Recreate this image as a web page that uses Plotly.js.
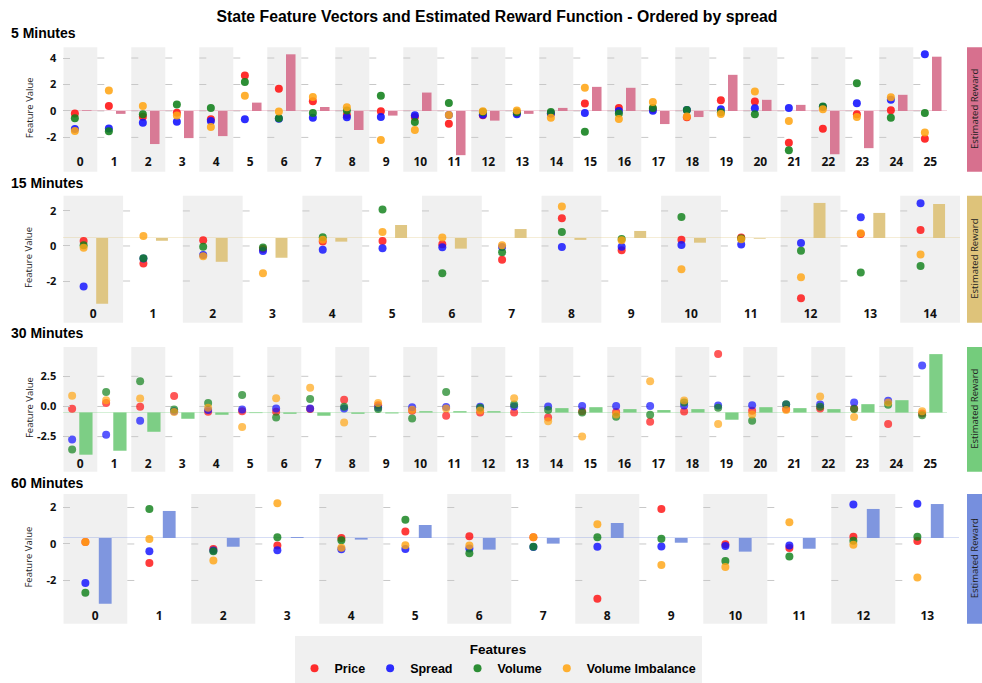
<!DOCTYPE html>
<html>
<head>
<meta charset="utf-8">
<script src="https://cdn.plot.ly/plotly-3.0.1.min.js"></script>
<style>
html,body{margin:0;padding:0;background:#fff;width:982px;height:683px;overflow:hidden;}
#chart{width:982px;height:683px;overflow:hidden;position:absolute;left:0;top:0;}
</style>
</head>
<body>
<div id="chart"></div>
<script>
// ---------------- DATA ----------------
const featureNames = ['Price', 'Spread', 'Volume', 'Volume Imbalance'];
const horizonNames = ['5 Minutes', '15 Minutes', '30 Minutes', '60 Minutes'];

const states5 = [0,1,2,3,4,5,6,7,8,9,10,11,12,13,14,15,16,17,18,19,20,21,22,23,24,25];
const price5 = [-0.2,0.38,-0.43,-0.13,-0.63,2.68,1.67,0.73,-0.3,-0.03,-0.46,-0.96,-0.33,-0.15,-0.2,0.56,0.23,0.15,-0.48,0.81,0.71,-2.41,-1.34,-0.25,0.05,-2.1];
const spread5 = [-1.37,-1.32,-0.89,-0.81,-0.76,-0.63,-0.58,-0.51,-0.48,-0.46,-0.32,-0.3,-0.28,-0.25,-0.2,-0.15,0.0,0.02,0.08,0.13,0.2,0.23,0.3,0.58,0.84,4.28];
const volume5 = [-0.56,-1.54,-0.25,0.48,0.23,2.18,-0.56,-0.15,0.03,1.14,-0.84,0.61,-0.08,-0.1,-0.08,-1.57,-0.2,0.23,0.08,-0.1,-0.25,-2.96,0.33,2.1,-0.51,-0.15];
const imbalance5 = [-1.52,1.54,0.38,-0.35,-1.22,1.14,-0.05,1.06,0.28,-2.2,-1.44,-0.3,-0.03,0.03,-0.51,1.75,-0.61,0.68,-0.41,-0.23,1.47,-0.76,0.13,-0.46,1.04,-1.62];
const reward5 = [0.05,-0.22,-2.5,-2.05,-1.9,0.63,4.28,0.3,-1.44,-0.35,1.39,-3.34,-0.73,-0.22,0.23,1.82,1.75,-0.99,-0.46,2.73,0.84,0.46,-3.27,-2.81,1.22,4.1];

const states15 = [0,1,2,3,4,5,6,7,8,9,10,11,12,13,14];
const price15 = [0.29,-1.0,0.32,-0.17,0.25,0.29,0.1,-0.78,1.58,-0.25,0.36,0.48,-2.99,0.69,0.91];
const spread15 = [-2.32,-0.72,-0.51,-0.29,-0.21,-0.13,-0.07,-0.06,-0.06,-0.05,0.06,0.08,0.17,1.64,2.44];
const volume15 = [0.04,-0.7,-0.04,-0.08,0.5,2.08,-1.56,-0.36,0.8,0.4,1.66,0.42,-0.27,-1.52,-1.14];
const imbalance15 = [-0.1,0.57,-0.59,-1.56,0.36,0.8,0.48,0.04,2.25,0.32,-1.33,0.38,-1.79,0.72,-0.48];
const reward15 = [-3.76,-0.16,-1.36,-1.13,-0.21,0.74,-0.61,0.51,-0.11,0.40,-0.27,-0.04,2.0,1.43,1.94];

const states30 = [0,1,2,3,4,5,6,7,8,9,10,11,12,13,14,15,16,17,18,19,20,21,22,23,24,25];
const price30 = [-0.19,0.28,-0.03,0.86,-0.44,-0.39,-0.44,-0.22,0.55,0.11,-0.36,-0.77,-0.5,-0.5,-0.91,-0.39,-0.47,-1.27,-0.41,4.34,-0.36,-0.22,-0.17,-0.17,-1.46,-0.58];
const spread30 = [-2.73,-2.35,-1.19,-0.39,-0.3,-0.25,-0.17,-0.17,-0.16,-0.08,-0.06,-0.05,-0.03,0.0,0.0,0.03,0.03,0.04,0.08,0.08,0.11,0.17,0.17,0.33,0.47,3.4];
const volume30 = [-3.56,1.19,2.1,-0.25,0.28,0.94,-0.91,0.61,-0.03,-0.22,-1.0,1.19,-0.11,0.17,-0.3,-0.5,-0.86,-0.69,0.33,-0.11,-1.19,0.19,-0.03,-0.22,0.14,-0.72];
const imbalance30 = [0.88,0.52,0.66,-0.47,-0.11,-1.71,0.69,1.55,-1.33,0.28,-0.28,-0.17,-0.33,0.69,-1.22,-2.49,-0.66,2.1,0.5,-1.46,-0.66,-0.3,0.83,-0.88,0.33,-0.39];
const reward30 = [-3.5,-3.17,-1.6,-0.52,-0.19,-0.05,-0.11,-0.27,-0.11,-0.08,0.11,0.11,0.11,0.03,0.36,0.44,0.28,0.2,0.28,-0.6,0.44,0.36,0.28,0.69,1.02,4.84];

const states60 = [0,1,2,3,4,5,6,7,8,9,10,11,12,13];
const price60 = [0.11,-1.04,-0.27,-0.09,0.33,0.69,0.42,0.37,-3.0,1.92,-0.02,-0.22,0.4,0.16];
const spread60 = [-2.14,-0.4,-0.36,-0.34,-0.29,-0.27,-0.25,-0.16,-0.15,-0.14,-0.11,-0.09,2.17,2.21];
const volume60 = [-2.68,1.92,-0.4,0.37,0.2,1.33,-0.51,-0.15,0.37,0.29,-0.93,-0.69,0.18,0.4];
const imbalance60 = [0.11,0.27,-0.9,2.23,-0.2,-0.07,-0.09,0.37,1.08,-1.15,-1.26,1.19,-0.04,-1.84];
const reward60 = [-3.6,1.48,-0.48,0.05,-0.09,0.71,-0.64,-0.31,0.82,-0.26,-0.75,-0.59,1.59,1.86];

const yTicks5 = [-2,0,2,4];   const yTickText5 = ['-2','0','2','4'];
const yTicks15 = [-2,0,2];    const yTickText15 = ['-2','0','2'];
const yTicks30 = [-2.5,0,2.5]; const yTickText30 = ['-2.5','0.0','2.5'];
const yTicks60 = [-2,0,2];    const yTickText60 = ['-2','0','2'];

// ---------------- STYLE / LAYOUT ----------------
const W = 982, H = 683;
const px = v => v / W;
const py = v => 1 - v / H;
const featureColors = ['#ff1010', '#1010ff', '#10801a', '#ffa514'];
const fontArial = 'Liberation Sans, Arial, sans-serif';
const fontOpen = 'Open Sans, DejaVu Sans, sans-serif';

const rowsData = [
  {states: states5, feats: [price5, spread5, volume5, imbalance5], reward: reward5, ticks: yTicks5, tickText: yTickText5},
  {states: states15, feats: [price15, spread15, volume15, imbalance15], reward: reward15, ticks: yTicks15, tickText: yTickText15},
  {states: states30, feats: [price30, spread30, volume30, imbalance30], reward: reward30, ticks: yTicks30, tickText: yTickText30},
  {states: states60, feats: [price60, spread60, volume60, imbalance60], reward: reward60, ticks: yTicks60, tickText: yTickText60}
];
const rowsStyle = [
  {top: 47.3, bottom: 171.7, left: 63.3, right: 947.3, range: [-4.59, 4.81], base: 0.0, labelY: 161, titleY: 33, ptX: 0.34, barX: 0.69, barW: 0.28, color: 'rgb(215,112,142)', zc: 'rgba(215,112,142,0.3)', op: 0.88},
  {top: 195.7, bottom: 322.7, left: 63.3, right: 960.0, range: [-4.38, 2.87], base: 0.457, labelY: 312.5, titleY: 183, ptX: 0.34, barX: 0.65, barW: 0.2, color: 'rgb(222,195,122)', zc: 'rgba(222,195,122,0.3)', op: 0.82},
  {top: 347.0, bottom: 471.7, left: 63.3, right: 947.3, range: [-5.41, 4.93], base: -0.5, labelY: 462.5, titleY: 333, ptX: 0.26, barX: 0.665, barW: 0.39, color: 'rgb(116,204,124)', zc: 'rgba(116,204,124,0.3)', op: 0.7},
  {top: 494.0, bottom: 623.7, left: 63.3, right: 959.3, range: [-4.37, 2.74], base: 0.33, labelY: 614.5, titleY: 483, ptX: 0.345, barX: 0.655, barW: 0.2, color: 'rgb(118,143,222)', zc: 'rgba(118,143,222,0.3)', op: 0.82}
];

const traces = [];
const layout = {
  width: W, height: H,
  margin: {l: 0, r: 0, t: 0, b: 0},
  paper_bgcolor: '#ffffff',
  plot_bgcolor: 'rgba(0,0,0,0)',
  showlegend: true,
  title: {text: 'State Feature Vectors and Estimated Reward Function - Ordered by spread',
          font: {family: fontArial, size: 15.8, color: '#000', weight: 'bold'},
          x: px(497), xanchor: 'center', y: py(16), yanchor: 'middle'},
  legend: {orientation: 'h', x: px(498), xanchor: 'center', y: 0, yanchor: 'bottom',
           bgcolor: '#f0f0f0', font: {family: fontArial, size: 12.5, color: '#000', weight: 'bold'},
           title: {text: 'Features', side: 'top center', font: {family: fontArial, size: 13.5, color: '#000', weight: 'bold'}},
           itemsizing: 'trace', tracegroupgap: 0},
  shapes: [],
  annotations: []
};

rowsData.forEach((rd, i) => {
  const st = rowsStyle[i];
  const xid = i === 0 ? 'x' : 'x' + (i + 1);
  const yFid = 'y' + (2 * i + 1 === 1 ? '' : (2 * i + 1));
  const yRid = 'y' + (2 * i + 2);
  const xKey = 'xaxis' + (i === 0 ? '' : (i + 1));
  const yFKey = 'yaxis' + (2 * i + 1 === 1 ? '' : (2 * i + 1));
  const yRKey = 'yaxis' + (2 * i + 2);
  const n = rd.states.length;

  layout[xKey] = {
    domain: [px(st.left), px(st.right)], range: [0, n], anchor: 'free', position: py(st.labelY - 8),
    tickvals: rd.states.map(s => s + 0.5), ticktext: rd.states.map(s => String(s)),
    tickfont: {family: fontOpen, size: 12, color: '#111', weight: 'bold'},
    ticks: '', showgrid: false, zeroline: false, showline: false, fixedrange: true
  };
  layout[yFKey] = {
    domain: [py(st.bottom), py(st.top)], range: st.range, anchor: xid,
    tickvals: rd.ticks, ticktext: rd.tickText, ticks: 'inside', ticklen: 7, tickcolor: '#c8c8c8', tickwidth: 1,
    ticklabelstandoff: 6,
    tickfont: {family: fontOpen, size: 11, color: '#111', weight: 'bold'},
    showgrid: false, zeroline: false, showline: false, fixedrange: true
  };
  layout[yRKey] = {
    overlaying: yFid, anchor: xid, side: 'right',
    range: [st.range[0] - st.base, st.range[1] - st.base],
    showticklabels: false, ticks: '', showgrid: false, showline: false,
    zeroline: true, zerolinecolor: st.zc, zerolinewidth: 1, fixedrange: true
  };

  // alternating panels
  rd.states.forEach((s, k) => {
    if (k % 2 === 0) {
      layout.shapes.push({type: 'rect', xref: xid, yref: 'paper', x0: s, x1: s + 1,
        y0: py(st.bottom), y1: py(st.top), fillcolor: '#f0f0f0', line: {width: 0}, layer: 'below'});
    }
  });
  // per-panel tick dashes
  rd.states.forEach((s, k) => {
    if (k === 0) return;
    rd.ticks.forEach(t => {
      layout.shapes.push({type: 'line', xref: xid, yref: yFid, xsizemode: 'pixel', xanchor: s, x0: 0, x1: 7,
        y0: t, y1: t, line: {color: '#c8c8c8', width: 1}, layer: 'below'});
    });
  });
  // right strip
  layout.shapes.push({type: 'rect', xref: 'paper', yref: 'paper', x0: px(967), x1: px(982),
    y0: py(st.bottom), y1: py(st.top), fillcolor: st.color, line: {width: 0}, layer: 'below'});
  layout.annotations.push({xref: 'paper', yref: 'paper', x: px(974.5), y: py((st.top + st.bottom) / 2),
    text: 'Estimated Reward', textangle: -90, showarrow: false, xanchor: 'center', yanchor: 'middle',
    font: {family: fontOpen, size: 9.5, color: '#222'}});
  // row title
  layout.annotations.push({xref: 'paper', yref: 'paper', x: px(9), y: py(st.titleY), xanchor: 'left', yanchor: 'middle',
    text: horizonNames[i], showarrow: false, font: {family: fontArial, size: 14, color: '#000', weight: 'bold'}});
  // y axis title
  layout.annotations.push({xref: 'paper', yref: 'paper', x: px(29), y: py(st.top + (st.bottom - st.top) * 0.49),
    text: 'Feature Value', textangle: -90, showarrow: false, xanchor: 'center', yanchor: 'middle',
    font: {family: fontOpen, size: 9.5, color: '#222'}});

  // bars (reward)
  traces.push({
    type: 'bar', x: rd.states.map(s => s + st.barX), y: rd.reward, width: st.barW,
    xaxis: xid, yaxis: yRid, marker: {color: st.color, line: {width: 0}}, opacity: 0.92,
    showlegend: false, hoverinfo: 'y', name: 'Estimated Reward'
  });
  // features
  rd.feats.forEach((vals, f) => {
    traces.push({
      type: 'scatter', mode: 'markers', x: rd.states.map(s => s + st.ptX), y: vals,
      xaxis: xid, yaxis: yFid, name: featureNames[f], legendgroup: featureNames[f],
      showlegend: i === 0, cliponaxis: false,
      marker: {color: featureColors[f], size: 8, opacity: st.op, line: {width: 0}}
    });
  });
});

Plotly.newPlot('chart', traces, layout, {displayModeBar: false, staticPlot: true});
</script>
</body>
</html>
